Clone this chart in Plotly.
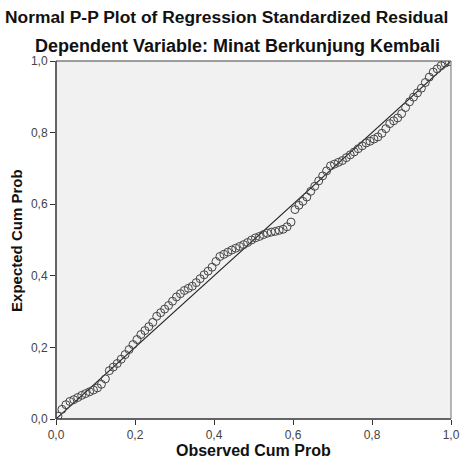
import plotly.graph_objects as go

observed = [0.005, 0.015, 0.025, 0.035, 0.045, 0.055, 0.065, 0.075, 0.085, 0.095,
            0.105, 0.115, 0.125, 0.135, 0.145, 0.155, 0.165, 0.175, 0.185, 0.195,
            0.205, 0.215, 0.225, 0.235, 0.245, 0.255, 0.265, 0.275, 0.285, 0.295,
            0.305, 0.315, 0.325, 0.335, 0.345, 0.355, 0.365, 0.375, 0.385, 0.395,
            0.405, 0.415, 0.425, 0.435, 0.445, 0.455, 0.465, 0.475, 0.485, 0.495,
            0.505, 0.515, 0.525, 0.535, 0.545, 0.555, 0.565, 0.575, 0.585, 0.595,
            0.605, 0.615, 0.625, 0.635, 0.645, 0.655, 0.665, 0.675, 0.685, 0.695,
            0.705, 0.715, 0.725, 0.735, 0.745, 0.755, 0.765, 0.775, 0.785, 0.795,
            0.805, 0.815, 0.825, 0.835, 0.845, 0.855, 0.865, 0.875, 0.885, 0.895,
            0.905, 0.915, 0.925, 0.935, 0.945, 0.955, 0.965, 0.975, 0.985, 0.995]
expected = [0.008, 0.027, 0.040, 0.049, 0.054, 0.060, 0.066, 0.071, 0.076, 0.081,
            0.087, 0.097, 0.112, 0.135, 0.145, 0.155, 0.167, 0.180, 0.194, 0.208,
            0.222, 0.236, 0.247, 0.258, 0.270, 0.287, 0.297, 0.307, 0.317, 0.329,
            0.341, 0.350, 0.359, 0.365, 0.371, 0.381, 0.392, 0.403, 0.413, 0.424,
            0.440, 0.454, 0.460, 0.466, 0.472, 0.477, 0.482, 0.487, 0.493, 0.500,
            0.506, 0.510, 0.515, 0.519, 0.522, 0.524, 0.527, 0.530, 0.537, 0.550,
            0.585, 0.597, 0.608, 0.620, 0.636, 0.650, 0.665, 0.679, 0.693, 0.707,
            0.712, 0.717, 0.722, 0.730, 0.738, 0.746, 0.755, 0.763, 0.771, 0.776,
            0.782, 0.788, 0.798, 0.811, 0.825, 0.833, 0.841, 0.853, 0.870, 0.886,
            0.899, 0.911, 0.924, 0.940, 0.955, 0.969, 0.978, 0.987, 0.994, 0.998]
ref_line = [0.0, 1.0]
tick_vals = [0.0, 0.2, 0.4, 0.6, 0.8, 1.0]
tick_text = ["0,0", "0,2", "0,4", "0,6", "0,8", "1,0"]

FONT = "Liberation Sans, Arial, sans-serif"
W, H = 470, 462
L, R, T, B = 56, 10, 61, 43

fig = go.Figure()
fig.add_trace(go.Scatter(x=ref_line, y=ref_line, mode="lines",
                         line=dict(color="#222222", width=1.1), hoverinfo="skip"))
fig.add_trace(go.Scatter(x=observed, y=expected, mode="markers",
                         marker=dict(symbol="circle-open", size=8,
                                     color="#444444", line=dict(width=1))))

axis_common = dict(range=[0, 1], tickvals=tick_vals, ticktext=tick_text,
                   ticks="outside", ticklen=5, tickcolor="#333333",
                   tickfont=dict(family=FONT, size=12, color="#444444"),
                   showgrid=False, zeroline=False, showline=False)
fig.update_xaxes(**axis_common)
fig.update_yaxes(**axis_common)

# frame
fig.add_shape(type="line", xref="paper", yref="paper", x0=0, x1=0, y0=0, y1=1,
              line=dict(color="#333333", width=1.5))
fig.add_shape(type="line", xref="paper", yref="paper", x0=0, x1=1, y0=0, y1=0,
              line=dict(color="#333333", width=1.5))
fig.add_shape(type="line", xref="paper", yref="paper", x0=0, x1=1, y0=1, y1=1,
              line=dict(color="#444444", width=1.2))
fig.add_shape(type="line", xref="paper", yref="paper", x0=1, x1=1, y0=0, y1=1,
              line=dict(color="#888888", width=1.2))

def px_x(p):
    return (p - L) / (W - L - R)

def px_y(p):
    return (H - B - p) / (H - T - B)

fig.add_annotation(text="<b>Normal P-P Plot of Regression Standardized Residual</b>",
                   xref="paper", yref="paper", x=px_x(230), y=px_y(17),
                   xanchor="center", yanchor="middle", showarrow=False,
                   font=dict(family=FONT, size=17.4, color="#111111"))
fig.add_annotation(text="<b>Dependent Variable: Minat Berkunjung Kembali</b>",
                   xref="paper", yref="paper", x=px_x(242), y=px_y(46),
                   xanchor="center", yanchor="middle", showarrow=False,
                   font=dict(family=FONT, size=18, color="#111111"))
fig.add_annotation(text="<b>Observed Cum Prob</b>",
                   xref="paper", yref="paper", x=px_x(258), y=px_y(451),
                   xanchor="center", yanchor="middle", showarrow=False,
                   font=dict(family=FONT, size=16, color="#111111"))
fig.add_annotation(text="<b>Expected Cum Prob</b>", textangle=-90,
                   xref="paper", yref="paper", x=px_x(15), y=px_y(240),
                   xanchor="center", yanchor="middle", showarrow=False,
                   font=dict(family=FONT, size=15, color="#111111"))

fig.update_layout(width=W, height=H, margin=dict(l=L, r=R, t=T, b=B),
                  paper_bgcolor="white", plot_bgcolor="#f1f1f1",
                  showlegend=False)

fig.write_html("out.html", config={"displayModeBar": False},
               post_script="document.body.style.margin='0';document.body.style.padding='0';")
